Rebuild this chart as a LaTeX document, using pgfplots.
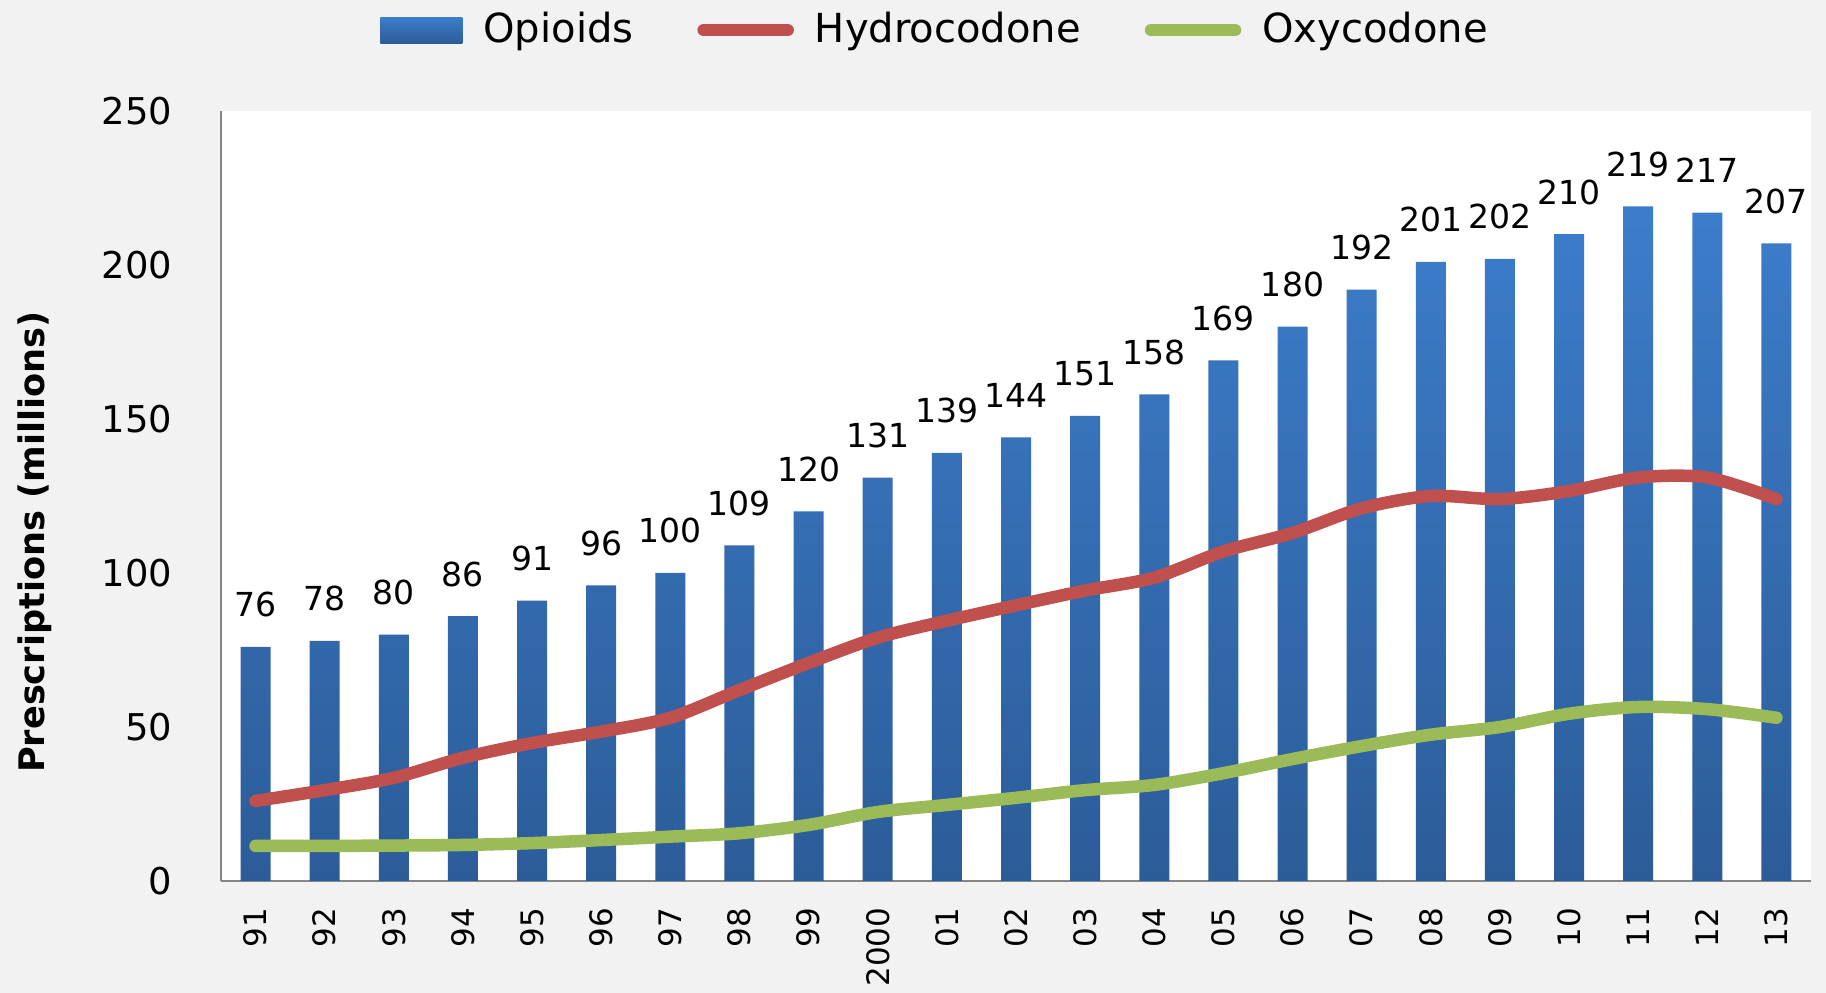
\documentclass[border=0pt]{standalone}
\usepackage{fontspec}
\setmainfont{DejaVu Sans}
\usepackage{pgfplots}
\pgfplotsset{compat=1.18}
\definecolor{bg}{HTML}{F2F2F2}
\definecolor{barTop}{HTML}{3C7DCB}
\definecolor{barBot}{HTML}{2C5C98}
\definecolor{hyd}{HTML}{C0504D}
\definecolor{oxy}{HTML}{9BBB59}
\definecolor{axc}{HTML}{868686}
\begin{document}
\begin{tikzpicture}
\fill[bg] (0,0) rectangle (182.6mm,99.3mm);
\useasboundingbox (0,0) rectangle (182.6mm,99.3mm);
\begin{axis}[
  at={(22.1mm,11.2mm)}, anchor=south west,
  scale only axis, width=159mm, height=77mm,
  xmin=-0.5, xmax=22.5, ymin=0, ymax=250,
  clip=false,
  axis background/.style={fill=white},
  axis x line*=bottom, axis y line*=left,
  axis line style={draw=axc, line width=0.27mm, -},
  xtick={0,...,22},
  xticklabels={91,92,93,94,95,96,97,98,99,2000,01,02,03,04,05,06,07,08,09,10,11,12,13},
  ytick={0,50,...,250},
  major tick length=0pt,
  tick style={draw=none},
  /pgf/number format/assume math mode=true,
  yticklabel style={font=\fontsize{10.5}{12}\selectfont, inner sep=0pt, anchor=east, xshift=-4.8mm},
  xticklabel style={font=\fontsize{8.8}{10}\selectfont, yshift=-2.6mm, rotate=90, anchor=east, inner sep=0pt},
  ylabel={Prescriptions (millions)},
  every axis y label/.style={at={(axis description cs:-0.117,0.44)}, rotate=90, anchor=center, font=\bfseries\fontsize{10}{12}\selectfont},
  legend style={at={(axis description cs:0.4485,1.105)}, anchor=center, draw=none, fill=none,
    legend columns=3, font=\fontsize{11.4}{13}\selectfont,
    /tikz/every even column/.append style={column sep=6.4mm},
    /tikz/every odd column/.append style={column sep=2.1mm},
    nodes={inner sep=0pt}},
  legend cell align=left,
]
\addplot[ybar, bar width=3mm, draw=none, top color=barTop, bottom color=barBot,
  nodes near coords,
  every node near coord/.append style={font=\fontsize{9.4}{11}\selectfont, anchor=base, yshift=3mm, inner sep=0pt, text=black},
  legend image code/.code={\shade[top color=barTop, bottom color=barBot] (0mm,-1.3mm) rectangle (8.2mm,1.3mm);}
] coordinates {(0,76) (1,78) (2,80) (3,86) (4,91) (5,96) (6,100) (7,109) (8,120) (9,131) (10,139) (11,144) (12,151) (13,158) (14,169) (15,180) (16,192) (17,201) (18,202) (19,210) (20,219) (21,217) (22,207)};
\addlegendentry{Opioids}
\addplot[hyd, line width=1.25mm, smooth, line cap=round, line join=round,
  legend image code/.code={\draw[hyd, line width=1.25mm, line cap=round] (0mm,0mm) -- (8.4mm,0mm);}
] coordinates {(0,26) (1,29.5) (2,33.5) (3,40) (4,44.8) (5,48.5) (6,53) (7,62) (8,70.8) (9,79) (10,84.5) (11,89.5) (12,94.3) (13,98.5) (14,107) (15,113) (16,121) (17,125) (18,124) (19,126.6) (20,131) (21,131) (22,124)};
\addlegendentry{Hydrocodone}
\addplot[oxy, line width=1.25mm, smooth, line cap=round, line join=round,
  legend image code/.code={\draw[oxy, line width=1.25mm, line cap=round] (0mm,0mm) -- (8.4mm,0mm);}
] coordinates {(0,11.4) (1,11.4) (2,11.5) (3,11.7) (4,12.3) (5,13.3) (6,14.4) (7,15.5) (8,18.2) (9,22.4) (10,24.7) (11,27) (12,29.5) (13,31.2) (14,35) (15,39.6) (16,43.8) (17,47.5) (18,50) (19,54.3) (20,56.5) (21,55.8) (22,53)};
\addlegendentry{Oxycodone}
\end{axis}
\end{tikzpicture}
\end{document}
